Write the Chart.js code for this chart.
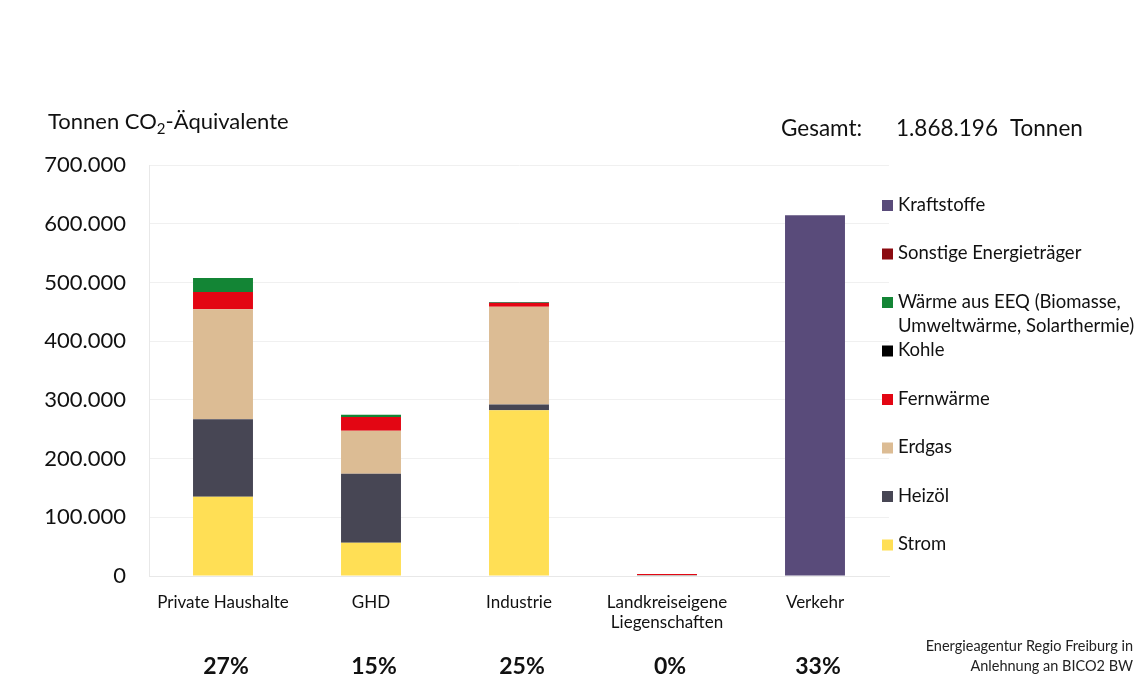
<!DOCTYPE html>
<html>
<head>
<meta charset="utf-8">
<script src="https://cdn.jsdelivr.net/npm/chart.js@4/dist/chart.umd.min.js"></script>
<style>
  html, body { margin: 0; padding: 0; background: #fff; }
  #wrap { width: 1144px; height: 697px; position: relative; }
</style>
</head>
<body>
<div id="wrap"><canvas id="co2Chart" width="1144" height="697"></canvas></div>
<script>
// Werte (Tonnen CO2-Äquivalente)
const categories = ["Private Haushalte", "GHD", "Industrie", ["Landkreiseigene", "Liegenschaften"], "Verkehr"];
const strom       = [135100, 56700, 282300, 1000, 0];
const heizoel     = [131800, 117600, 10000, 300, 0];
const erdgas      = [187400, 73200, 166300, 500, 0];
const fernwaerme  = [29500, 23400, 6300, 1500, 0];
const kohle       = [0, 0, 500, 0, 0];
const waermeEEQ   = [23900, 3900, 1000, 0, 0];
const sonstige    = [0, 0, 300, 0, 0];
const kraftstoffe = [0, 0, 0, 0, 614500];
const percentages = ["27%", "15%", "25%", "0%", "33%"];
const yTicks = [0, 100000, 200000, 300000, 400000, 500000, 600000, 700000];
const gesamt = "1.868.196";

const FONT = "Lato, 'Open Sans', sans-serif";

// Datensätze von unten nach oben gestapelt
const series = [
    { label: "Strom", data: strom, color: "#FFDF55" },
    { label: "Heizöl", data: heizoel, color: "#474654" },
    { label: "Erdgas", data: erdgas, color: "#DCBC94" },
    { label: "Fernwärme", data: fernwaerme, color: "#E30613" },
    { label: "Kohle", data: kohle, color: "#000000" },
    { label: ["Wärme aus EEQ (Biomasse,", "Umweltwärme, Solarthermie)"], data: waermeEEQ, color: "#138535" },
    { label: "Sonstige Energieträger", data: sonstige, color: "#8B0A10" },
    { label: "Kraftstoffe", data: kraftstoffe, color: "#594B7A" }
];

function formatDE(v) {
    return v.toString().replace(/\B(?=(\d{3})+(?!\d))/g, ".");
}

// Texte außerhalb des Diagramms: Titel, Gesamt, Prozente, Quelle und Legende
const extras = {
    id: "extras",
    afterDraw(chart) {
        const ctx = chart.ctx;
        const x = chart.scales.x;
        const area = chart.chartArea;
        ctx.save();
        ctx.fillStyle = "#111";
        ctx.textBaseline = "alphabetic";

        // Achsentitel mit tiefgestellter 2
        ctx.textAlign = "left";
        ctx.font = "22px " + FONT;
        let tx = 48;
        const ty = 129;
        ctx.fillText("Tonnen CO", tx, ty);
        tx += ctx.measureText("Tonnen CO").width;
        ctx.font = "15px " + FONT;
        ctx.fillText("2", tx, ty + 5);
        tx += ctx.measureText("2").width;
        ctx.font = "22px " + FONT;
        ctx.fillText("-Äquivalente", tx, ty);

        // Gesamt
        ctx.font = "22.5px " + FONT;
        ctx.fillText("Gesamt:", 781, 136);
        ctx.fillText(gesamt, 896, 136);
        ctx.fillText("Tonnen", 1010, 136);

        // Prozente unter den Kategorien
        ctx.textAlign = "center";
        ctx.font = "bold 23px " + FONT;
        percentages.forEach((p, i) => {
            ctx.fillText(p, x.getPixelForValue(i) + 3, 674);
        });

        // Quelle
        ctx.textAlign = "right";
        ctx.font = "14.5px " + FONT;
        ctx.fillStyle = "#222";
        ctx.fillText("Energieagentur Regio Freiburg in", 1133, 651);
        ctx.fillText("Anlehnung an BICO2 BW", 1133, 671);

        // Legende (umgekehrte Reihenfolge)
        ctx.textAlign = "left";
        ctx.textBaseline = "middle";
        ctx.font = "18.5px " + FONT;
        const items = chart.data.datasets.slice().reverse();
        items.forEach((ds, i) => {
            const cy = area.top + 40 + i * 48.5;
            ctx.fillStyle = ds.backgroundColor;
            ctx.fillRect(882, cy - 5, 11, 11);
            ctx.fillStyle = "#111";
            const lines = Array.isArray(ds.label) ? ds.label : [ds.label];
            lines.forEach((l, j) => ctx.fillText(l, 898, cy + j * 24));
        });
        ctx.restore();
    }
};

const ctx = document.getElementById("co2Chart").getContext("2d");
const co2Chart = new Chart(ctx, {
    type: "bar",
    data: {
        labels: categories,
        datasets: series.map(s => ({
            label: s.label,
            data: s.data,
            backgroundColor: s.color,
            borderWidth: 0,
            categoryPercentage: 1,
            barPercentage: 0.405
        }))
    },
    options: {
        responsive: false,
        animation: false,
        layout: { padding: { left: 0, right: 255, top: 165, bottom: 0 } },
        plugins: {
            legend: { display: false },
            tooltip: { enabled: false }
        },
        scales: {
            x: {
                stacked: true,
                grid: { display: false },
                border: { color: "#e8e8e8" },
                ticks: {
                    color: "#111",
                    font: { family: FONT, size: 17 },
                    padding: 8,
                    maxRotation: 0
                },
                afterFit(scale) { scale.height = 121; }
            },
            y: {
                stacked: true,
                min: 0,
                max: 700000,
                afterBuildTicks(scale) { scale.ticks = yTicks.map(v => ({ value: v })); },
                grid: { color: "#f0f0f0", drawTicks: false },
                border: { color: "#e8e8e8" },
                ticks: {
                    color: "#111",
                    font: { family: FONT, size: 22 },
                    padding: 23,
                    callback: v => formatDE(v)
                },
                afterFit(scale) { scale.width = 149; }
            }
        }
    },
    plugins: [extras]
});
</script>
</body>
</html>
